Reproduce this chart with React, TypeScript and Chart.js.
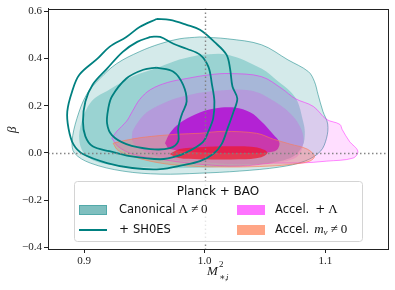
import React, { useEffect, useRef } from 'react';
import { Chart, registerables } from 'chart.js';

Chart.register(...registerables);

// ---------- axes ----------
const X_TICKS = [0.9, 1.0, 1.1];
const Y_TICKS = [-0.4, -0.2, 0.0, 0.2, 0.4, 0.6];
const X_MIN = 0.870;
const X_MAX = 1.152;
const Y_MIN = -0.407;
const Y_MAX = 0.611;
const REF_X = 1.0;
const REF_Y = 0.0;

// ---------- contours [M2, beta] ----------
const CANON_95 = [[0.996,0.491],[1.019,0.483],[1.047,0.458],[1.069,0.394],[1.086,0.344],[1.091,0.302],[1.094,0.247],[1.098,0.176],[1.102,0.122],[1.101,0.062],[1.096,0.007],[1.083,-0.035],[1.062,-0.060],[1.029,-0.077],[0.996,-0.086],[0.963,-0.090],[0.932,-0.077],[0.905,-0.043],[0.892,-0.001],[0.890,0.049],[0.894,0.146],[0.902,0.247],[0.913,0.315],[0.927,0.378],[0.946,0.429],[0.963,0.462],[0.979,0.483]];
const CANON_68 = [[0.996,0.416],[1.019,0.416],[1.047,0.357],[1.061,0.302],[1.071,0.260],[1.077,0.218],[1.081,0.146],[1.083,0.091],[1.081,0.028],[1.071,-0.022],[1.046,-0.048],[1.013,-0.060],[0.963,-0.064],[0.919,-0.048],[0.902,-0.014],[0.896,0.049],[0.898,0.133],[0.906,0.218],[0.921,0.268],[0.940,0.323],[0.963,0.365],[0.979,0.395]];
const ACCEL_95 = [[0.923,0.062],[0.927,0.091],[0.935,0.133],[0.940,0.176],[0.946,0.226],[0.955,0.268],[0.969,0.298],[0.985,0.315],[1.004,0.331],[1.021,0.336],[1.047,0.323],[1.064,0.272],[1.075,0.230],[1.090,0.197],[1.101,0.142],[1.112,0.121],[1.114,0.099],[1.120,0.049],[1.127,0.007],[1.123,-0.022],[1.101,-0.035],[1.079,-0.043],[1.057,-0.043],[1.029,-0.056],[0.996,-0.048],[0.963,-0.027],[0.940,-0.005],[0.928,0.028]];
const ACCEL_68 = [[0.940,0.091],[0.945,0.133],[0.953,0.176],[0.969,0.218],[0.985,0.243],[1.004,0.260],[1.038,0.264],[1.058,0.218],[1.071,0.167],[1.079,0.112],[1.082,0.049],[1.077,-0.014],[1.062,-0.039],[1.029,-0.048],[0.996,-0.039],[0.963,-0.018],[0.946,0.016],[0.940,0.049]];
const ACCEL_CORE = [[0.967,0.041],[0.971,0.083],[0.979,0.125],[0.992,0.163],[1.008,0.188],[1.025,0.192],[1.038,0.171],[1.047,0.133],[1.056,0.083],[1.062,0.041],[1.058,0.007],[1.029,-0.001],[0.996,0.003],[0.971,0.016]];
const MNU_95 = [[0.924,0.041],[0.934,0.053],[0.949,0.066],[0.977,0.079],[0.996,0.083],[1.015,0.091],[1.043,0.083],[1.057,0.058],[1.071,0.037],[1.085,0.016],[1.091,-0.014],[1.087,-0.035],[1.073,-0.048],[1.054,-0.056],[1.021,-0.060],[0.988,-0.056],[0.963,-0.043],[0.942,-0.018],[0.928,0.011]];
const MNU_68 = [[0.971,-0.005],[0.979,0.016],[0.996,0.024],[1.021,0.028],[1.042,0.024],[1.052,0.003],[1.047,-0.018],[1.029,-0.027],[0.996,-0.027],[0.978,-0.022]];
const SH0ES_OUTER = [[0.960,0.567],[0.971,0.563],[0.985,0.542],[0.996,0.521],[1.008,0.470],[1.018,0.416],[1.021,0.357],[1.023,0.281],[1.027,0.230],[1.024,0.176],[1.019,0.104],[1.014,0.037],[1.007,-0.005],[0.996,-0.035],[0.982,-0.052],[0.963,-0.069],[0.940,-0.064],[0.919,-0.043],[0.899,-0.005],[0.891,0.037],[0.887,0.104],[0.886,0.176],[0.890,0.260],[0.896,0.331],[0.911,0.399],[0.921,0.449],[0.935,0.491],[0.946,0.533]];
const SH0ES_MID = [[0.955,0.491],[0.963,0.491],[0.974,0.462],[0.985,0.441],[0.996,0.416],[1.003,0.365],[1.006,0.289],[1.008,0.218],[1.007,0.146],[1.003,0.091],[0.999,0.049],[0.990,0.016],[0.977,-0.014],[0.963,-0.027],[0.938,-0.014],[0.921,0.007],[0.907,0.028],[0.901,0.070],[0.899,0.133],[0.901,0.218],[0.907,0.289],[0.919,0.357],[0.932,0.428],[0.944,0.470]];
const SH0ES_INNER = [[0.960,0.361],[0.974,0.344],[0.982,0.289],[0.985,0.218],[0.981,0.163],[0.978,0.104],[0.978,0.049],[0.971,0.020],[0.955,0.016],[0.935,0.037],[0.923,0.075],[0.919,0.125],[0.920,0.188],[0.923,0.239],[0.935,0.315],[0.949,0.352]];

const LEGEND_TITLE = 'Planck + BAO';

const SANS = "'DejaVu Sans', sans-serif";
const SERIF = "'Liberation Serif', 'DejaVu Serif', serif";
const TEAL = '#008080';

function contour(pts: number[][], o: { fill?: string; border?: string; width?: number; order: number }) {
  return {
    data: [...pts, pts[0]].map(([x, y]) => ({ x, y })),
    pointRadius: 0,
    pointHoverRadius: 0,
    tension: 0.35,
    fill: o.fill ? 'shape' : false,
    backgroundColor: o.fill || 'rgba(0,0,0,0)',
    borderColor: o.border || 'rgba(0,0,0,0)',
    borderWidth: o.border ? (o.width ?? 1) : 0,
    order: o.order,
  };
}

function drawRuns(ctx: CanvasRenderingContext2D, x: number, y: number, runs: { t: string; f: string; dy?: number; gap?: number }[]) {
  let cx = x;
  for (const r of runs) {
    cx += r.gap || 0;
    ctx.font = r.f;
    ctx.fillText(r.t, cx, y + (r.dy || 0));
    cx += ctx.measureText(r.t).width;
  }
}

const overlayPlugin = {
  id: 'overlay',
  afterDatasetsDraw(chart: any) {
    const { ctx, chartArea: ca, scales } = chart;
    ctx.save();
    ctx.strokeStyle = 'rgba(128,128,128,0.95)';
    ctx.lineWidth = 1.4;
    ctx.setLineDash([1.5, 2.5]);
    const px = Math.round(scales.x.getPixelForValue(REF_X)) + 0.5;
    const py = Math.round(scales.y.getPixelForValue(REF_Y)) + 0.5;
    ctx.beginPath();
    ctx.moveTo(px, ca.top);
    ctx.lineTo(px, ca.bottom);
    ctx.stroke();
    ctx.beginPath();
    ctx.moveTo(ca.left, py);
    ctx.lineTo(ca.right, py);
    ctx.stroke();
    ctx.restore();
  },
  afterDraw(chart: any) {
    const { ctx, chartArea: ca } = chart;
    ctx.save();
    // frame
    ctx.strokeStyle = '#222';
    ctx.lineWidth = 1;
    ctx.setLineDash([]);
    ctx.strokeRect(Math.round(ca.left) + 0.5, Math.round(ca.top) + 0.5, Math.round(ca.right - ca.left), Math.round(ca.bottom - ca.top));

    // legend
    const bx = ca.left + 26, by = ca.bottom - 68, bw = 288, bh = 60;
    ctx.beginPath();
    (ctx as any).roundRect(bx + 0.5, by + 0.5, bw, bh, 3);
    ctx.fillStyle = 'rgba(255,255,255,0.8)';
    ctx.fill();
    ctx.strokeStyle = '#d4d4d4';
    ctx.stroke();

    ctx.fillStyle = '#111';
    ctx.textBaseline = 'middle';
    ctx.textAlign = 'center';
    ctx.font = `12px ${SANS}`;
    ctx.fillText(LEGEND_TITLE, bx + bw / 2, by + 11);
    ctx.textAlign = 'left';

    const r1 = by + 29, r2 = by + 49;
    const c1 = bx + 5, c2 = bx + 163, sw = 28, sh = 10;
    // swatches
    ctx.fillStyle = 'rgba(0,128,128,0.5)';
    ctx.fillRect(c1, r1 - sh / 2, sw, sh);
    ctx.strokeStyle = 'rgba(0,128,128,0.35)';
    ctx.strokeRect(c1 + 0.5, r1 - sh / 2 + 0.5, sw - 1, sh - 1);
    ctx.strokeStyle = TEAL;
    ctx.lineWidth = 2;
    ctx.beginPath();
    ctx.moveTo(c1, r2);
    ctx.lineTo(c1 + sw, r2);
    ctx.stroke();
    ctx.lineWidth = 1;
    ctx.fillStyle = 'rgba(255,0,255,0.55)';
    ctx.fillRect(c2, r1 - sh / 2, sw, sh);
    ctx.fillStyle = 'rgba(255,110,60,0.62)';
    ctx.fillRect(c2, r2 - sh / 2, sw, sh);

    ctx.fillStyle = '#111';
    const tf = `11.5px ${SANS}`;
    const pf = `12px ${SANS}`;
    const mf = `13px ${SERIF}`;
    const mi = `italic 13px ${SERIF}`;
    drawRuns(ctx, c1 + 40, r1, [{ t: 'Canonical', f: tf }, { t: 'Λ', f: mf, gap: 3 }, { t: '≠', f: mf, gap: 3 }, { t: '0', f: mf, gap: 3 }]);
    drawRuns(ctx, c1 + 40, r2, [{ t: '+', f: pf }, { t: 'SH0ES', f: tf, gap: 4 }]);
    drawRuns(ctx, c2 + 38, r1, [{ t: 'Accel.', f: tf }, { t: '+', f: pf, gap: 6 }, { t: 'Λ', f: mf, gap: 3 }]);
    drawRuns(ctx, c2 + 38, r2, [{ t: 'Accel.', f: tf }, { t: 'm', f: mi, gap: 5 }, { t: 'ν', f: `italic 9px ${SERIF}`, dy: 3, gap: 0 }, { t: '≠', f: mf, gap: 3 }, { t: '0', f: mf, gap: 3 }]);

    // axis labels
    ctx.fillStyle = '#222';
    ctx.save();
    ctx.translate(13, (ca.top + ca.bottom) / 2 + 1);
    ctx.rotate(-Math.PI / 2);
    ctx.textAlign = 'center';
    ctx.font = `italic 13px ${SERIF}`;
    ctx.fillText('β', 0, 0);
    ctx.restore();

    ctx.textAlign = 'left';
    ctx.textBaseline = 'alphabetic';
    ctx.font = `italic 13px ${SERIF}`;
    ctx.fillText('M', 207, 275);
    ctx.font = `9px ${SERIF}`;
    ctx.fillText('2', 219, 267);
    ctx.fillText('∗,', 219, 280);
    ctx.font = `italic 9px ${SERIF}`;
    ctx.fillText('i', 226, 280);
    ctx.restore();
  },
};

export default function App() {
  const ref = useRef<HTMLCanvasElement | null>(null);
  useEffect(() => {
    if (!ref.current) return;
    const tickFont = { family: SERIF, size: 11 };
    const chart = new Chart(ref.current, {
      type: 'line',
      data: {
        datasets: [
          contour(CANON_95, { fill: 'rgba(0,128,128,0.17)', border: 'rgba(0,128,128,0.5)', width: 1, order: 9 }),
          contour(CANON_68, { fill: 'rgba(20,160,155,0.3)', order: 8 }),
          contour(ACCEL_95, { fill: 'rgba(255,0,255,0.13)', border: 'rgba(255,0,255,0.45)', width: 1, order: 7 }),
          contour(ACCEL_68, { fill: 'rgba(230,40,230,0.2)', order: 6 }),
          contour(ACCEL_CORE, { fill: 'rgba(180,0,210,0.78)', order: 5 }),
          contour(MNU_95, { fill: 'rgba(255,110,80,0.3)', border: 'rgba(255,120,80,0.6)', width: 1, order: 4 }),
          contour(MNU_68, { fill: 'rgba(240,20,40,0.7)', order: 3 }),
          contour(SH0ES_OUTER, { border: TEAL, width: 1.8, order: 2 }),
          contour(SH0ES_MID, { border: TEAL, width: 1.8, order: 1 }),
          contour(SH0ES_INNER, { border: TEAL, width: 1.8, order: 0 }),
        ] as any,
      },
      options: {
        animation: false,
        responsive: false,
        devicePixelRatio: 1,
        layout: { padding: { top: 7, right: 7, left: 0, bottom: 0 } },
        plugins: { legend: { display: false }, tooltip: { enabled: false } },
        events: [],
        scales: {
          x: {
            type: 'linear',
            min: X_MIN,
            max: X_MAX,
            afterBuildTicks: (s: any) => { s.ticks = X_TICKS.map((v) => ({ value: v })); },
            afterFit: (s: any) => { s.height = 41; },
            ticks: { font: tickFont, color: '#222', padding: 2, maxRotation: 0, callback: (v: any) => Number(v).toFixed(1) },
            grid: { display: true, drawOnChartArea: false, drawTicks: true, tickLength: 4, tickColor: '#222' },
            border: { display: true, color: '#222', width: 1 },
          },
          y: {
            type: 'linear',
            min: Y_MIN,
            max: Y_MAX,
            afterBuildTicks: (s: any) => { s.ticks = Y_TICKS.map((v) => ({ value: v })); },
            afterFit: (s: any) => { s.width = 48; },
            ticks: { font: tickFont, color: '#222', padding: 2, callback: (v: any) => (Number(v) < 0 ? '−' : '') + Math.abs(Number(v)).toFixed(1) },
            grid: { display: true, drawOnChartArea: false, drawTicks: true, tickLength: 4, tickColor: '#222' },
            border: { display: true, color: '#222', width: 1 },
          },
        },
      } as any,
      plugins: [overlayPlugin],
    });
    return () => chart.destroy();
  }, []);
  return (
    <div style={{ position: 'absolute', left: 0, top: 0, width: 395, height: 290, background: '#fff' }}>
      <canvas ref={ref} width={395} height={290} style={{ width: 395, height: 290 }} />
    </div>
  );
}
